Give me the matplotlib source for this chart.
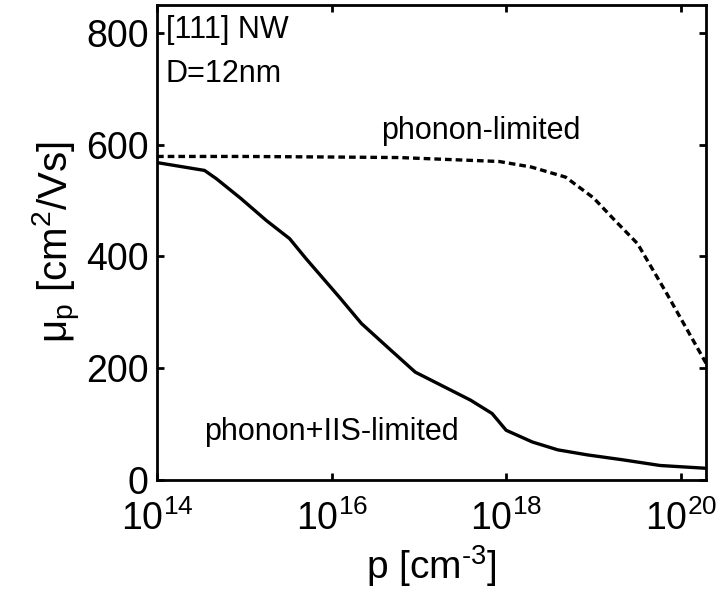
import matplotlib
matplotlib.use("Agg")
import matplotlib.pyplot as plt
from matplotlib.ticker import FixedLocator, LogFormatterMathtext, NullLocator

plt.rcParams['font.family'] = ['Liberation Sans', 'DejaVu Sans']
plt.rcParams['mathtext.fontset'] = 'custom'
plt.rcParams['mathtext.rm'] = 'Liberation Sans'
plt.rcParams['mathtext.it'] = 'Liberation Sans:italic'
plt.rcParams['mathtext.bf'] = 'Liberation Sans:bold'
plt.rcParams['mathtext.default'] = 'regular'

# hole density p [cm^-3] and mobility [cm^2/Vs]
p_phonon = [1.0e14, 1.0e15, 1.0e16, 6.0e16, 8.3e17, 1.95e18, 4.8e18,
            1.0e19, 1.8e19, 3.2e19, 6.9e19, 1.95e20]
mu_phonon = [579, 579, 578, 577, 570, 560, 542,
             505, 463, 423, 334, 209]

p_iis = [1.0e14, 3.5e14, 4.8e14, 9.1e14, 1.8e15, 3.3e15, 5.1e15,
         1.23e16, 2.2e16, 4.8e16, 9.1e16, 3.9e17, 6.9e17, 1.0e18,
         2.0e18, 3.9e18, 8.5e18, 2.2e19, 5.8e19, 1.95e20]
mu_iis = [568, 554, 539, 504, 464, 432, 396,
          327, 280, 232, 193, 143, 119, 89,
          68, 54, 45, 36, 26, 21]

x_ticks = [1e14, 1e16, 1e18, 1e20]
y_ticks = [0, 200, 400, 600, 800]

fig = plt.figure(figsize=(7.2, 5.96), dpi=100)
ax = fig.add_axes([0.2181, 0.1946, 0.7625, 0.797])

ax.plot(p_phonon, mu_phonon, color='black', lw=2.4, linestyle=(0, (2.0, 1.2)))
ax.plot(p_iis, mu_iis, color='black', lw=2.4, linestyle='-')

ax.set_xscale('log')
ax.set_xlim(1e14, 1.95e20)
ax.set_ylim(0, 850)
ax.xaxis.set_major_locator(FixedLocator(x_ticks))
ax.xaxis.set_major_formatter(LogFormatterMathtext())
ax.xaxis.set_minor_locator(NullLocator())
ax.set_yticks(y_ticks)

ax.tick_params(axis='both', which='major', direction='in', length=5, width=2,
               top=True, right=True, labelsize=27)
ax.tick_params(axis='x', pad=14.5)
ax.tick_params(axis='y', pad=6)
for s in ax.spines.values():
    s.set_linewidth(2.0)

ax.set_xlabel(r'p [cm$^{\text{-3}}$]', fontsize=28, labelpad=4)
ax.set_ylabel(r'μ$_{p}$ [cm$^{2}$/Vs]', fontsize=29, labelpad=2)

ax.text(0.016, 0.947, '[111] NW', transform=ax.transAxes, fontsize=22,
        ha='left', va='center')
ax.text(0.016, 0.855, 'D=12nm', transform=ax.transAxes, fontsize=22,
        ha='left', va='center')
ax.text(0.590, 0.735, 'phonon-limited', transform=ax.transAxes, fontsize=22,
        ha='center', va='center')
ax.text(0.317, 0.101, 'phonon+IIS-limited', transform=ax.transAxes, fontsize=22,
        ha='center', va='center')

fig.savefig('out.png', dpi=100)
